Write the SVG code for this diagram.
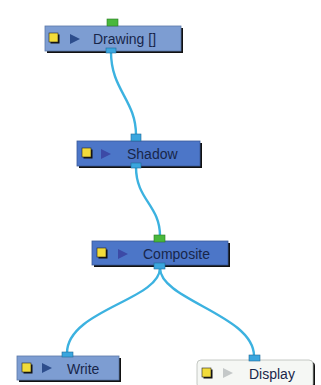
<svg xmlns="http://www.w3.org/2000/svg" width="321" height="385" viewBox="0 0 321 385">
<style>
.lbl{font-family:"Liberation Sans",Arial,sans-serif;font-size:14px;fill:#18264a}
.shd{fill:#111}
.light{fill:#7d9dd2;stroke:#5a78a8;stroke-width:0.8}
.dark{fill:#4c76c8;stroke:#3a5a9a;stroke-width:0.8}
.white{fill:#f5f7f4;stroke:#b8bcb8;stroke-width:0.8}
.ico{fill:#f2dc3a;stroke:#222;stroke-width:0.6}
.tri{fill:#2d4d8c}
.tri2{fill:#3c4aa6}
.tri3{fill:#c4c8c8}
.pin{fill:#3aa6de;stroke:#1f6a96;stroke-width:0.6}
.pg{fill:#49b83c;stroke:#2a7a24;stroke-width:0.6}
.wire{fill:none;stroke:#3cb2e0;stroke-width:2.4}
</style>
<rect width="321" height="385" fill="#ffffff"/>
<g id="connectors">
<path class="wire" d="M111,52 C111,90 136,100 136,135"/>
<path class="wire" d="M136,167 C136,200 160,205 160,236"/>
<path class="wire" d="M160,268 C160,300 67,310 67,353"/>
<path class="wire" d="M160,268 C160,300 254,315 254,356"/>
</g>
<g id="drawing">
<rect class="shd" x="47" y="28" width="136" height="25"/>
<rect class="light" x="45" y="26" width="136" height="25"/>
<rect class="pg" x="107" y="19" width="11" height="7"/>
<rect class="pin" x="106" y="48" width="10" height="5"/>
<rect class="shd" x="50.5" y="34.5" width="9" height="9"/>
<rect class="ico" x="49" y="33" width="9" height="9"/>
<path class="tri" d="M70,34 L80,39 L70,44 Z"/>
<text class="lbl" x="93" y="44">Drawing []</text>
</g>
<g id="shadow">
<rect class="shd" x="79" y="143" width="123" height="25"/>
<rect class="dark" x="77" y="141" width="123" height="25"/>
<rect class="pin" x="131" y="134" width="10" height="7"/>
<rect class="pin" x="131" y="163" width="10" height="5"/>
<rect class="shd" x="83.5" y="149.5" width="9" height="9"/>
<rect class="ico" x="82" y="148" width="9" height="9"/>
<path class="tri2" d="M101,149 L111,154 L101,159 Z"/>
<text class="lbl" x="127" y="159">Shadow</text>
</g>
<g id="composite">
<rect class="shd" x="94" y="243" width="136" height="24"/>
<rect class="dark" x="92" y="241" width="136" height="24"/>
<rect class="pg" x="154" y="235" width="11" height="7"/>
<rect class="pin" x="154" y="263" width="11" height="6"/>
<rect class="shd" x="98.5" y="249.5" width="9" height="9"/>
<rect class="ico" x="97" y="248" width="9" height="9"/>
<path class="tri2" d="M118,249 L128,254 L118,259 Z"/>
<text class="lbl" x="143" y="259">Composite</text>
</g>
<g id="write">
<rect class="shd" x="19" y="358" width="102" height="24"/>
<rect class="light" x="17" y="356" width="102" height="24"/>
<rect class="pin" x="62" y="352" width="11" height="5"/>
<rect class="shd" x="23.5" y="364.5" width="9" height="9"/>
<rect class="ico" x="22" y="363" width="9" height="9"/>
<path class="tri" d="M42,363 L52,368 L42,373 Z"/>
<text class="lbl" x="67" y="374">Write</text>
</g>
<g id="display">
<rect class="shd" x="200" y="362" width="115" height="26" rx="4"/>
<rect class="white" x="197" y="360" width="116" height="28" rx="4"/>
<rect class="pin" x="249" y="355" width="11" height="6"/>
<rect class="shd" x="203.5" y="369.5" width="9" height="9"/>
<rect class="ico" x="202" y="368" width="9" height="9"/>
<path class="tri3" d="M223,368 L233,373 L223,378 Z"/>
<text class="lbl" x="249" y="379">Display</text>
</g>
</svg>
